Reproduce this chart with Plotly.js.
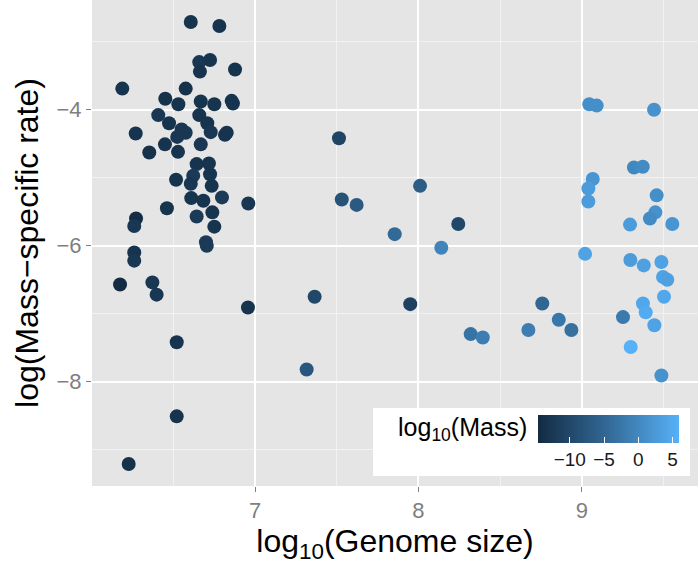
<!DOCTYPE html>
<html>
<head>
<meta charset="utf-8">
<script src="https://cdn.plot.ly/plotly-3.0.1.min.js"></script>
<style>html,body{margin:0;padding:0;background:#fff;}#chart{width:700px;height:572px;}</style>
</head>
<body>
<div id="chart"></div>
<script>
// log10(Genome size)
const genomeSize = [
  6.607, 6.782, 6.659, 6.725, 6.663, 6.878, 6.188, 6.576, 6.451, 6.531,
  6.668, 6.751, 6.857, 6.865, 6.408, 6.659, 6.474, 6.708, 6.270, 6.551,
  6.576, 6.524, 6.729, 6.816, 6.827, 6.449, 6.668, 6.353, 6.529, 6.643,
  6.718, 6.622, 6.725, 6.517, 6.607, 6.735, 6.610, 6.684, 6.798, 6.959,
  6.461, 6.643, 6.739, 6.272, 6.261, 6.751, 6.700, 6.705, 6.261, 6.261,
  6.174, 6.372, 6.398, 6.957, 6.521, 6.521, 6.227,
  7.316, 7.514, 8.010, 7.531, 7.622, 8.244, 7.855, 8.140, 7.365, 7.950,
  8.320, 8.394, 8.673,
  9.046, 9.091, 9.442, 9.319, 9.373, 9.067, 9.040, 9.458, 9.040, 9.450,
  9.417, 9.295, 9.554, 9.020, 9.297, 9.379, 9.487, 9.497, 9.523, 9.503,
  8.758, 9.374, 9.391, 8.859, 9.252, 9.444, 8.936, 9.299, 9.487
];
// log(Mass-specific rate)
const massSpecificRate = [
  -2.71, -2.77, -3.30, -3.27, -3.44, -3.41, -3.69, -3.69, -3.84, -3.92,
  -3.88, -3.92, -3.87, -3.91, -4.08, -4.08, -4.20, -4.20, -4.35, -4.29,
  -4.34, -4.40, -4.33, -4.37, -4.34, -4.51, -4.51, -4.63, -4.62, -4.80,
  -4.79, -4.97, -4.95, -5.03, -5.09, -5.12, -5.30, -5.34, -5.29, -5.38,
  -5.45, -5.57, -5.51, -5.60, -5.71, -5.72, -5.95, -6.00, -6.10, -6.22,
  -6.57, -6.54, -6.72, -6.91, -7.42, -8.51, -9.21,
  -7.82, -4.42, -5.12, -5.32, -5.40, -5.68, -5.83, -6.03, -6.75, -6.86,
  -7.30, -7.35, -7.24,
  -3.92, -3.94, -4.00, -4.85, -4.84, -5.02, -5.16, -5.26, -5.35, -5.51,
  -5.60, -5.69, -5.68, -6.12, -6.21, -6.29, -6.24, -6.46, -6.50, -6.75,
  -6.85, -6.85, -6.98, -7.09, -7.05, -7.17, -7.24, -7.49, -7.91
];
// log10(Mass)
const logMass = [
  -13.2, -13.2, -12.7, -13.2, -13.2, -13.2, -13.2, -13.7, -13.7, -13.2,
  -13.2, -13.2, -13.2, -13.2, -12.7, -13.2, -13.2, -13.2, -13.2, -12.7,
  -12.7, -12.7, -12.7, -13.2, -13.2, -13.2, -12.7, -13.7, -13.2, -13.2,
  -13.2, -12.2, -13.2, -13.2, -12.7, -13.2, -13.2, -13.2, -12.2, -12.7,
  -13.2, -12.2, -13.2, -14.3, -12.7, -13.2, -12.2, -12.2, -13.2, -12.7,
  -14.6, -12.7, -12.7, -13.2, -13.2, -13.2, -13.7,
  -7.5, -10.5, -6.5, -8, -7, -10, -4.5, -0.5, -10, -11,
  -3, -1.5, -1.5,
  1, 1, 1.5, 0, 0.5, 2, 3, 1, 3, 1.5,
  0.5, 3, 2, 4, 3, 3.5, 4, 4, 3.5, 4.5,
  -5, 4.5, 5, -2.5, -2, 4, -3.5, 6, 1.5
];
const massTicks = [-10, -5, 0, 5];
const xTicks = [7, 8, 9];
const yTicks = [-8, -6, -4];

const font = "Liberation Sans, Arial, sans-serif";

const trace = {
  type: "scatter",
  mode: "markers",
  x: genomeSize,
  y: massSpecificRate,
  hoverinfo: "x+y",
  marker: {
    size: 14,
    color: logMass,
    cmin: -14.6,
    cmax: 6,
    colorscale: [[0, "#132B43"], [0.5, "#336A98"], [1, "#56B1F7"]],
    line: {width: 0},
    colorbar: {
      orientation: "h",
      lenmode: "pixels", len: 141,
      thicknessmode: "pixels", thickness: 28,
      x: 0.7365, xanchor: "left",
      y: 0.1461, yanchor: "top",
      xpad: 0, ypad: 0,
      outlinewidth: 0,
      tickmode: "array", tickvals: massTicks,
      ticks: "inside", ticklen: 6, tickcolor: "#ffffff", tickwidth: 1,
      tickfont: {family: font, size: 19, color: "#1a1a1a"},
      title: {text: ""}
    }
  }
};

const layout = {
  width: 700, height: 572,
  margin: {l: 92, r: 2, t: 0, b: 86},
  paper_bgcolor: "#ffffff",
  plot_bgcolor: "#E5E5E5",
  showlegend: false,
  xaxis: {
    range: [6.0025, 9.711],
    tickmode: "array", tickvals: xTicks,
    ticks: "outside", ticklen: 5, tickcolor: "#7f7f7f", tickwidth: 1,
    tickfont: {family: font, size: 22, color: "#7f7f7f"},
    showgrid: true, gridcolor: "#ffffff", gridwidth: 2,
    minor: {tickmode: "array", tickvals: [6.5, 7.5, 8.5, 9.5], showgrid: true, gridcolor: "#F2F2F2", gridwidth: 1, ticks: ""},
    zeroline: false, showline: false,
    title: {text: "log<sub>10</sub>(Genome size)", font: {family: font, size: 32, color: "#000000"}, standoff: 7}
  },
  yaxis: {
    range: [-9.534, -2.387],
    tickmode: "array", tickvals: yTicks,
    ticks: "outside", ticklen: 5, tickcolor: "#7f7f7f", tickwidth: 1,
    tickfont: {family: font, size: 22, color: "#7f7f7f"},
    showgrid: true, gridcolor: "#ffffff", gridwidth: 2,
    minor: {tickmode: "array", tickvals: [-9, -7, -5, -3], showgrid: true, gridcolor: "#F2F2F2", gridwidth: 1, ticks: ""},
    zeroline: false, showline: false,
    title: {text: "log(Mass\u2212specific rate)", font: {family: font, size: 32, color: "#000000"}, standoff: 8}
  },
  shapes: [{
    type: "rect", xref: "paper", yref: "paper",
    x0: 0.4637, x1: 0.9868, y0: 0.0206, y1: 0.1605,
    fillcolor: "#ffffff", line: {width: 0}, layer: "above"
  }],
  annotations: [{
    xref: "paper", yref: "paper",
    x: 0.7205, y: 0.117, xanchor: "right", yanchor: "middle",
    text: "log<sub>10</sub>(Mass)", showarrow: false,
    font: {family: font, size: 25, color: "#000000"}
  }]
};

Plotly.newPlot("chart", [trace], layout, {displayModeBar: false, staticPlot: true});
</script>
</body>
</html>
